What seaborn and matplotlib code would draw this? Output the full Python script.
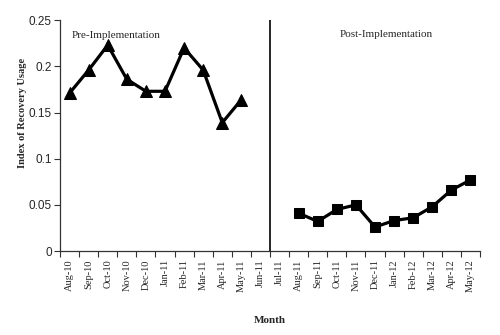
import matplotlib
matplotlib.use("Agg")
import matplotlib.pyplot as plt
import seaborn as sns
import pandas as pd
import numpy as np

months = ["Aug-10", "Sep-10", "Oct-10", "Nov-10", "Dec-10", "Jan-11", "Feb-11",
          "Mar-11", "Apr-11", "May-11", "Jun-11", "Jul-11", "Aug-11", "Sep-11",
          "Oct-11", "Nov-11", "Dec-11", "Jan-12", "Feb-12", "Mar-12", "Apr-12", "May-12"]
pre_months = months[:10]
pre_values = [0.171, 0.196, 0.223, 0.186, 0.173, 0.173, 0.220, 0.196, 0.139, 0.164]
post_months = months[12:]
post_values = [0.041, 0.032, 0.045, 0.050, 0.026, 0.033, 0.036, 0.048, 0.066, 0.077]
y_ticks = [0, 0.05, 0.1, 0.15, 0.2, 0.25]
y_tick_labels = ["0", "0.05", "0.1", "0.15", "0.2", "0.25"]

sns.set_style("white")
plt.rcParams['font.family'] = ['Liberation Serif', 'DejaVu Serif']

pre_df = pd.DataFrame({"pos": [months.index(m) for m in pre_months], "value": pre_values})
post_df = pd.DataFrame({"pos": [months.index(m) for m in post_months], "value": post_values})

fig = plt.figure(figsize=(5, 3.35), dpi=100)
ax = fig.add_axes([0.12, 0.2507, 0.84, 0.689])

sns.lineplot(data=pre_df, x="pos", y="value", ax=ax, color="black", lw=2.3,
             marker="^", markersize=8, markeredgecolor="black", markerfacecolor="black")
sns.lineplot(data=post_df, x="pos", y="value", ax=ax, color="black", lw=2.3,
             marker="s", markersize=7, markeredgecolor="black", markerfacecolor="black")

ax.axvline(10.5, color="black", lw=1.2, ymin=0, ymax=1)

ax.set_xlim(-0.5, len(months) - 0.5)
ax.set_ylim(0, 0.25)
ax.set_xticks(range(len(months)))
ax.set_xticklabels(months, rotation=90, fontsize=7.5, family=['Liberation Serif'])
ax.set_xticks(np.arange(-0.5, len(months), 1), minor=True)
ax.tick_params(axis="x", which="major", length=0, pad=6)
ax.tick_params(axis="x", which="minor", length=4, width=0.8, direction="out", color="#333333", bottom=True)
ax.set_yticks(y_ticks)
ax.set_yticklabels(y_tick_labels, fontsize=8.5, family=['Liberation Sans'])
ax.tick_params(axis="y", which="major", length=4, width=0.8, direction="out", color="#333333", left=True, pad=2)

for s in ["top", "right"]:
    ax.spines[s].set_visible(False)
for s in ["left", "bottom"]:
    ax.spines[s].set_color("#333333")
    ax.spines[s].set_linewidth(0.9)

ax.set_ylabel("Index of Recovery Usage", fontsize=7.5, fontweight="bold")
ax.yaxis.set_label_coords(-0.079, 0.60)
ax.set_xlabel("Month", fontsize=8, fontweight="bold", labelpad=17)

ax.text(0.028, 0.935, "Pre-Implementation", transform=ax.transAxes, fontsize=8,
        ha="left", va="center")
ax.text(0.776, 0.94, "Post-Implementation", transform=ax.transAxes, fontsize=8,
        ha="center", va="center")

fig.savefig("out.png", dpi=100, facecolor="white")
